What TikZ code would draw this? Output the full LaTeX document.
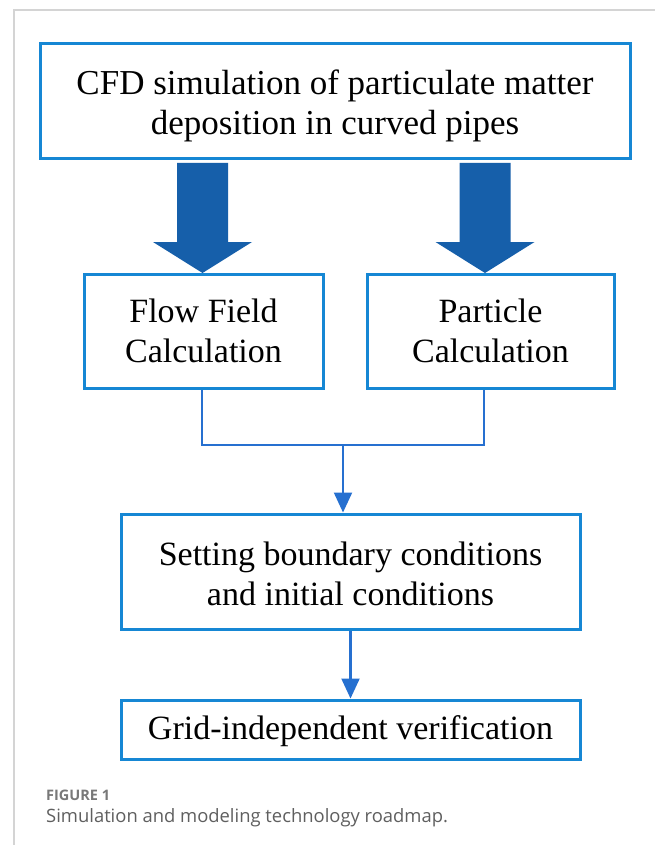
\documentclass[tikz,border=0pt]{standalone}
\usepackage{fontspec}
\setmainfont{Liberation Serif}
\newfontfamily\capfont{Open Sans}
\usetikzlibrary{arrows.meta}
\definecolor{boxblue}{RGB}{22,135,212}
\definecolor{arrblue}{RGB}{22,95,170}
\definecolor{lineblue}{RGB}{38,112,208}
\definecolor{framegray}{RGB}{212,212,212}
\definecolor{capgray}{RGB}{95,95,95}
\definecolor{figgray}{RGB}{120,120,120}
\begin{document}
\begin{tikzpicture}[x=1pt,y=-1pt,
  box/.style={draw=boxblue,line width=3pt,fill=white,inner sep=0pt,align=center,
    font=\fontsize{34}{40}\selectfont},
  link/.style={draw=lineblue,line width=2.2pt},
  tip/.style={-{Triangle[length=20pt,width=18pt]}},
  bigarrow/.style={fill=arrblue}]
\useasboundingbox (0,0) rectangle (655,845);
\fill[white] (0,0) rectangle (655,845);
\draw[framegray,line width=1.5pt] (655,10) -- (14,10) -- (14,845);

\node[box,minimum width=590pt,minimum height=115pt,font=\fontsize{35}{40}\selectfont] (top) at (335,101.5)
  {\rule{0pt}{33pt}CFD simulation of particulate matter\\deposition in curved pipes};
\node[box,minimum width=239pt,minimum height=114pt] (flow) at (203.5,331)
  {Flow Field\\Calculation};
\node[box,minimum width=247pt,minimum height=114pt] (particle) at (490.5,331)
  {Particle\\Calculation};
\node[box,minimum width=459pt,minimum height=115pt] (setting) at (350.5,571.5)
  {\rule{0pt}{28pt}Setting boundary conditions\\and initial conditions};
\node[box,minimum width=459pt,minimum height=59pt] (grid) at (350.5,729.5)
  {\rule{0pt}{27pt}Grid-independent verification};

\fill[bigarrow] (177,163) -- (228,163) -- (228,242) -- (252,242) -- (202.5,273)
  -- (153,242) -- (177,242) -- cycle;
\fill[bigarrow] (459.5,163) -- (510.5,163) -- (510.5,242) -- (534.5,242) -- (485,273)
  -- (435.5,242) -- (459.5,242) -- cycle;

\coordinate (j) at (343,445);
\draw[link] ([xshift=-1.5pt]flow.south) |- (j) -| ([xshift=-6.5pt]particle.south);
\draw[link,tip] (j) -- (j |- setting.north);
\draw[link,tip] (setting.south) -- (grid.north);

\node[anchor=base west,inner sep=0pt,text=figgray,
  font=\capfont\bfseries\fontsize{14.5}{16}\selectfont] (fig) at (46,800) {FIGURE 1};
\node[anchor=base west,inner sep=0pt,text=capgray,
  font=\capfont\fontsize{18.4}{20}\selectfont] (cap) at (46,822)
  {Simulation and modeling technology roadmap.};
\end{tikzpicture}
\end{document}
